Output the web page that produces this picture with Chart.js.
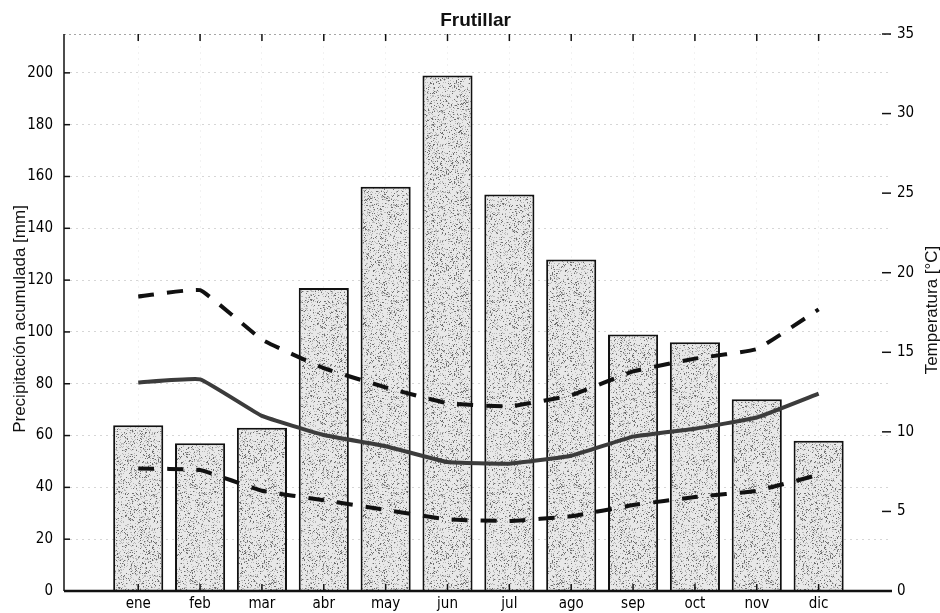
<!DOCTYPE html>
<html>
<head>
<meta charset="utf-8">
<title>Frutillar</title>
<script src="https://cdn.jsdelivr.net/npm/chart.js@4.4.1/dist/chart.umd.min.js"></script>
<style>
  html, body { margin: 0; padding: 0; background: #ffffff; }
  #wrap { width: 940px; height: 613px; }
  canvas { display: block; }
</style>
</head>
<body>
<div id="wrap"><canvas id="chart" width="940" height="613"></canvas></div>
<script>
// Monthly climate data for Frutillar
const months = ['ene', 'feb', 'mar', 'abr', 'may', 'jun', 'jul', 'ago', 'sep', 'oct', 'nov', 'dic'];
const precipitation = [64, 57, 63, 117, 156, 199, 153, 128, 99, 96, 74, 58];      // mm
const tempMax  = [18.5, 18.9, 15.8, 14.0, 12.8, 11.8, 11.6, 12.3, 13.8, 14.6, 15.2, 17.7]; // °C
const tempMean = [13.1, 13.3, 11.0, 9.8, 9.1, 8.1, 8.0, 8.5, 9.7, 10.2, 10.9, 12.4];      // °C
const tempMin  = [7.7, 7.6, 6.3, 5.7, 5.1, 4.5, 4.4, 4.7, 5.4, 5.9, 6.3, 7.3];           // °C
const precipTicks = [0, 20, 40, 60, 80, 100, 120, 140, 160, 180, 200];
const tempTicks = [0, 5, 10, 15, 20, 25, 30, 35];

const TICK_FONT = { family: "'Liberation Sans Narrow', 'Arial Narrow', 'DejaVu Sans Condensed', 'Liberation Sans', sans-serif", size: 15 };
const TITLE_FAMILY = "'Liberation Sans', Arial, Helvetica, sans-serif";

const toPoints = arr => arr.map((v, i) => ({ x: i, y: v }));

// Speckled grey fill for the precipitation bars (deterministic hash noise)
function stipplePattern() {
  const n = 96;
  const c = document.createElement('canvas');
  c.width = n; c.height = n;
  const g = c.getContext('2d');
  const img = g.createImageData(n, n);
  for (let yy = 0; yy < n; yy++) {
    for (let xx = 0; xx < n; xx++) {
      let h = Math.sin(xx * 12.9898 + yy * 78.233) * 43758.5453;
      h -= Math.floor(h);
      let v = 232;
      if (h < 0.24) v = 185;
      if (h < 0.08) v = 110;
      const k = (yy * n + xx) * 4;
      img.data[k] = v; img.data[k + 1] = v; img.data[k + 2] = v; img.data[k + 3] = 255;
    }
  }
  g.putImageData(img, 0, 0);
  return document.getElementById('chart').getContext('2d').createPattern(c, 'repeat');
}

// Axis lines, inward tick marks and the dotted top border
const framePlugin = {
  id: 'frame',
  afterDatasetsDraw(chart) {
    const { ctx, chartArea: a, scales } = chart;
    const x = scales.x, y = scales.y, yR = scales.yR;
    const seg = (x1, y1, x2, y2) => { ctx.beginPath(); ctx.moveTo(x1, y1); ctx.lineTo(x2, y2); ctx.stroke(); };
    ctx.save();
    ctx.strokeStyle = 'rgba(0,0,0,0.35)';
    ctx.lineWidth = 1;
    ctx.setLineDash([2, 3]);
    seg(a.left, a.top + 0.5, a.right, a.top + 0.5);
    ctx.setLineDash([]);
    ctx.strokeStyle = '#111';
    ctx.lineWidth = 1.5;
    seg(a.left, a.top, a.left, a.bottom);
    precipTicks.forEach(v => { const py = y.getPixelForValue(v); seg(a.left, py, a.left + 6, py); });
    tempTicks.forEach(v => { const py = yR.getPixelForValue(v); seg(a.right - 9, py, a.right, py); });
    months.forEach((m, i) => {
      const px = x.getPixelForValue(i);
      seg(px, a.bottom, px, a.bottom - 7);
      seg(px, a.top, px, a.top + 7);
    });
    ctx.lineWidth = 2.5;
    seg(a.left, a.bottom, a.right + 1, a.bottom);
    ctx.restore();
  }
};

// Chart title and the two axis titles (both read bottom-to-top)
const titlesPlugin = {
  id: 'titles',
  afterDraw(chart) {
    const { ctx, chartArea: a } = chart;
    ctx.save();
    ctx.fillStyle = '#111';
    ctx.textAlign = 'center';
    ctx.textBaseline = 'middle';
    ctx.font = 'bold 19px ' + TITLE_FAMILY;
    ctx.fillText('Frutillar', (a.left + a.right) / 2 - 2, 21);
    ctx.font = '17px ' + TITLE_FAMILY;
    ctx.save();
    ctx.translate(20, 319);
    ctx.rotate(-Math.PI / 2);
    ctx.fillText('Precipitación acumulada [mm]', 0, 0);
    ctx.restore();
    ctx.save();
    ctx.translate(932, 310);
    ctx.rotate(-Math.PI / 2);
    ctx.fillText('Temperatura [°C]', 0, 0);
    ctx.restore();
    ctx.restore();
  }
};

new Chart(document.getElementById('chart'), {
  type: 'bar',
  data: {
    datasets: [
      {
        type: 'line', label: 'Temperatura máxima', data: toPoints(tempMax), yAxisID: 'yR',
        borderColor: '#111', borderWidth: 4, borderDash: [16, 13], pointRadius: 0, tension: 0.1, order: 0
      },
      {
        type: 'line', label: 'Temperatura media', data: toPoints(tempMean), yAxisID: 'yR',
        borderColor: '#3c3c3c', borderWidth: 4, pointRadius: 0, tension: 0.1, order: 0
      },
      {
        type: 'line', label: 'Temperatura mínima', data: toPoints(tempMin), yAxisID: 'yR',
        borderColor: '#111', borderWidth: 4, borderDash: [16, 13], pointRadius: 0, tension: 0.1, order: 0
      },
      {
        type: 'bar', label: 'Precipitación', data: toPoints(precipitation), yAxisID: 'y',
        backgroundColor: stipplePattern(), borderColor: '#111', borderWidth: 2,
        categoryPercentage: 1, barPercentage: 0.81, order: 1
      }
    ]
  },
  options: {
    responsive: false,
    devicePixelRatio: 1,
    animation: false,
    layout: { padding: { top: 34, left: 0, right: 0, bottom: 0 } },
    plugins: { legend: { display: false }, tooltip: { enabled: false }, title: { display: false } },
    scales: {
      x: {
        type: 'linear', min: -1.2, max: 12.17, offset: false,
        afterBuildTicks: s => { s.ticks = months.map((m, i) => ({ value: i })); },
        afterFit: s => { s.height = 22; },
        ticks: { callback: v => months[v], color: '#000', font: TICK_FONT, padding: 4, maxRotation: 0, autoSkip: false },
        grid: { color: 'rgba(0,0,0,0.05)', lineWidth: 1, drawTicks: false, offset: false },
        border: { display: false, dash: [2, 4] }
      },
      y: {
        type: 'linear', position: 'left', min: 0, max: 215,
        afterBuildTicks: s => { s.ticks = precipTicks.map(v => ({ value: v })); },
        afterFit: s => { s.width = 64; },
        ticks: { color: '#000', font: TICK_FONT, padding: 11 },
        grid: { color: 'rgba(0,0,0,0.16)', lineWidth: 1, drawTicks: false },
        border: { display: false, dash: [2, 4] }
      },
      yR: {
        type: 'linear', position: 'right', min: 0, max: 35,
        afterBuildTicks: s => { s.ticks = tempTicks.map(v => ({ value: v })); },
        afterFit: s => { s.width = 49; },
        ticks: { color: '#000', font: TICK_FONT, padding: 6 },
        grid: { display: false, drawTicks: false },
        border: { display: false }
      }
    }
  },
  plugins: [framePlugin, titlesPlugin]
});
</script>
</body>
</html>
